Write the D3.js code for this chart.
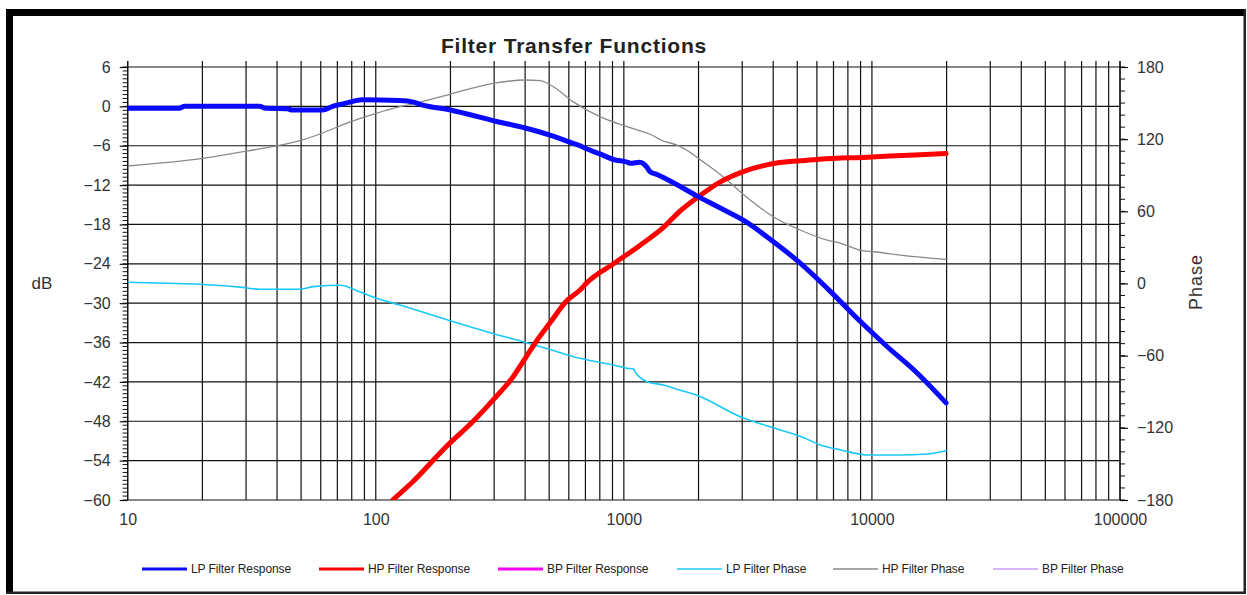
<!DOCTYPE html>
<html><head><meta charset="utf-8">
<script src="https://cdn.jsdelivr.net/npm/d3@7"></script>
<style>
html,body{margin:0;padding:0;background:#fff;}
svg{display:block;font-family:"Liberation Sans",Arial,sans-serif;}
</style></head><body>
<svg id="chart" width="1247" height="595"></svg>
<script>
// ---------- data ----------
const chartTitle = "Filter Transfer Functions";
const xTickValues = [10, 100, 1000, 10000, 100000];
const dbTickValues = [6, 0, -6, -12, -18, -24, -30, -36, -42, -48, -54, -60];
const phaseTickValues = [180, 120, 60, 0, -60, -120, -180];
const seriesNames = ["LP Filter Response", "HP Filter Response", "BP Filter Response",
                     "LP Filter Phase", "HP Filter Phase", "BP Filter Phase"];

const lpRespFreq = [10, 16, 17, 34, 36, 44, 46, 61, 67, 78, 88, 125, 142, 151, 200, 307, 400, 500, 600, 666, 700, 802, 908, 1030, 1063, 1160, 1240, 1270, 1360, 1490, 1960, 2450, 3110, 4000, 5140, 6590, 8990, 11500, 15170, 19900];
const lpRespDb   = [-0.3, -0.3, 0, 0, -0.3, -0.35, -0.55, -0.55, 0, 0.6, 1.0, 0.9, 0.65, 0.3, -0.55, -2.3, -3.3, -4.35, -5.4, -6.0, -6.4, -7.25, -8.1, -8.5, -8.67, -8.5, -9.3, -9.9, -10.4, -11.1, -13.6, -15.5, -17.6, -20.6, -23.9, -27.7, -32.8, -36.6, -40.6, -45.2];

const hpRespFreq = [117, 142, 193, 247, 298, 358, 405, 444, 504, 586, 666, 709, 908, 1160, 1440, 1680, 1960, 2450, 3030, 4250, 5140, 6150, 9580, 14870, 19900];
const hpRespDb   = [-60, -57.1, -51.8, -48.0, -44.7, -41.2, -38.1, -35.8, -33.0, -29.7, -28.0, -26.9, -24.0, -21.2, -18.5, -16.0, -14.0, -11.5, -9.94, -8.57, -8.3, -8.06, -7.75, -7.4, -7.2];

const bpRespFreq = [];
const bpRespDb   = [];

const lpPhaseFreq = [10, 15.5, 22, 29, 34, 49, 56, 72, 86, 101, 125, 199, 289, 405, 500, 666, 908, 1030, 1090, 1120, 1240, 1440, 1680, 1960, 2950, 4000, 5140, 6150, 7500, 9700, 12900, 16700, 19900];
const lpPhaseDeg  = [1, 0, -1.2, -3.2, -4.8, -4.8, -2.6, -1.5, -6.8, -12.3, -17.9, -30.9, -40.9, -49.2, -54.7, -62.2, -67.8, -70.5, -71, -74.7, -81.6, -84.4, -88.5, -92.7, -110.7, -120, -127, -134, -138.4, -142.6, -142.6, -141.7, -139];

const hpPhaseFreq = [10, 20, 30, 50, 86, 125, 146, 200, 298, 400, 460, 520, 625, 800, 1030, 1320, 1410, 1640, 1960, 2040, 2510, 3110, 4000, 5140, 6600, 7490, 8900, 10200, 14870, 19900];
const hpPhaseDeg  = [97.7, 104, 110, 119, 137, 147, 150, 157.5, 166.4, 169.2, 168.6, 163.6, 151, 138.7, 130.4, 122.6, 119.3, 115, 105.4, 102.7, 88.8, 72.2, 55.5, 44.5, 36, 33.4, 27.8, 26.4, 22.3, 20.0];

const bpPhaseFreq = [];
const bpPhaseDeg  = [];

// ---------- layout ----------
const svg = d3.select("#chart");
const W = 1247, H = 595;
const plot = {left: 127.7, right: 1120, top: 67, bottom: 500};

const x = d3.scaleLog().domain([10, 100000]).range([plot.left, plot.right]);
const yDb = d3.scaleLinear().domain([-60, 6]).range([plot.bottom, plot.top]);
const yPh = d3.scaleLinear().domain([-180, 180]).range([plot.bottom, plot.top]);

// frame
svg.append("rect").attr("x", 0).attr("y", 0).attr("width", W).attr("height", H).attr("fill", "#fff");
const frame = svg.append("g").attr("fill", "#000");
frame.append("rect").attr("x", 6).attr("y", 9).attr("width", 1240).attr("height", 7);
frame.append("rect").attr("x", 6).attr("y", 9).attr("width", 7).attr("height", 585);
frame.append("rect").attr("x", 1243.5).attr("y", 9).attr("width", 2.5).attr("height", 585).attr("fill", "#222");
frame.append("rect").attr("x", 6).attr("y", 591.5).attr("width", 1240).attr("height", 2.5).attr("fill", "#222");

// title
svg.append("text").attr("x", 574).attr("y", 52.5).attr("text-anchor", "middle")
  .attr("font-size", 21).attr("font-weight", "bold").attr("fill", "#222")
  .attr("letter-spacing", 0.8).text(chartTitle);

// grid
const gridColor = "#111";
const vLines = [];
for (let k = 1; k <= 4; k++) for (let d = 1; d <= 9; d++) vLines.push(d * Math.pow(10, k));
vLines.push(100000);
const grid = svg.append("g");
grid.selectAll("line.v").data(vLines).enter().append("line")
  .attr("x1", d => x(d)).attr("x2", d => x(d))
  .attr("y1", 61).attr("y2", plot.bottom)
  .attr("stroke", gridColor).attr("stroke-width", 1.2);
grid.selectAll("line.h").data(dbTickValues).enter().append("line")
  .attr("x1", plot.left).attr("x2", plot.right)
  .attr("y1", d => yDb(d)).attr("y2", d => yDb(d))
  .attr("stroke", gridColor).attr("stroke-width", 1.2);

// left axis (dB)
const leftAxis = d3.axisLeft(yDb).tickValues(dbTickValues).tickSize(8).tickPadding(9).tickFormat(d3.format("d"));
const gL = svg.append("g").attr("transform", `translate(${plot.left},0)`).call(leftAxis);
const dbMinor = d3.range(-60, 6.001, 0.6);
gL.selectAll("line.minor").data(dbMinor).enter().append("line").attr("class", "minor")
  .attr("x1", -5).attr("x2", 0).attr("y1", d => yDb(d)).attr("y2", d => yDb(d))
  .attr("stroke", gridColor).attr("stroke-width", 1);

// right axis (phase)
const rightAxis = d3.axisRight(yPh).tickValues(phaseTickValues).tickSize(8).tickPadding(9).tickFormat(d3.format("d"));
const gR = svg.append("g").attr("transform", `translate(${plot.right},0)`).call(rightAxis);
const phMinor = d3.range(-180, 180.001, 10);
gR.selectAll("line.minor").data(phMinor).enter().append("line").attr("class", "minor")
  .attr("x1", 0).attr("x2", 5).attr("y1", d => yPh(d)).attr("y2", d => yPh(d))
  .attr("stroke", gridColor).attr("stroke-width", 1);

// bottom axis (frequency)
const bottomAxis = d3.axisBottom(x).tickValues(xTickValues).tickSize(0).tickPadding(14).tickFormat(d3.format("d"));
const gB = svg.append("g").attr("transform", `translate(0,${plot.bottom})`).call(bottomAxis);

[gL, gR, gB].forEach(g => {
  g.select(".domain").attr("stroke", gridColor).attr("stroke-width", 1.2);
  g.selectAll(".tick line").attr("stroke", gridColor).attr("stroke-width", 1.2);
  g.selectAll("text").attr("font-size", 16).attr("fill", "#333")
    .attr("font-family", "'Liberation Sans',Arial,sans-serif");
});
gL.select(".domain").attr("d", `M0,61V${plot.bottom}`);
gR.select(".domain").attr("d", `M0,61V${plot.bottom}`);
gB.select(".domain").remove();

// axis titles
svg.append("text").attr("x", 42).attr("y", 289).attr("text-anchor", "middle")
  .attr("font-size", 17).attr("fill", "#333").text("dB");
svg.append("text").attr("transform", "translate(1202,282) rotate(-90)").attr("text-anchor", "middle")
  .attr("font-size", 18).attr("fill", "#333").attr("letter-spacing", 1).text("Phase");

// series
svg.append("clipPath").attr("id", "plotClip").append("rect")
  .attr("x", plot.left).attr("y", plot.top - 4).attr("width", plot.right - plot.left).attr("height", plot.bottom - plot.top + 4);

const seriesDefs = [
  {name: seriesNames[0], f: lpRespFreq, v: lpRespDb, y: yDb, color: "#0a0aff", w: 5},
  {name: seriesNames[1], f: hpRespFreq, v: hpRespDb, y: yDb, color: "#ff0000", w: 5},
  {name: seriesNames[2], f: bpRespFreq, v: bpRespDb, y: yDb, color: "#ff00ff", w: 5},
  {name: seriesNames[3], f: lpPhaseFreq, v: lpPhaseDeg, y: yPh, color: "#18c8f8", w: 1.6},
  {name: seriesNames[4], f: hpPhaseFreq, v: hpPhaseDeg, y: yPh, color: "#8a8a8a", w: 1.3},
  {name: seriesNames[5], f: bpPhaseFreq, v: bpPhaseDeg, y: yPh, color: "#c8a0f8", w: 1.6}
];
const drawOrder = [4, 3, 5, 2, 1, 0];
const gS = svg.append("g").attr("clip-path", "url(#plotClip)");
drawOrder.forEach(i => {
  const s = seriesDefs[i];
  const pts = s.f.map((f, j) => [f, s.v[j]]);
  if (!pts.length) return;
  const line = d3.line().x(d => x(d[0])).y(d => s.y(d[1])).curve(d3.curveMonotoneX);
  gS.append("path").datum(pts).attr("d", line).attr("fill", "none")
    .attr("stroke", s.color).attr("stroke-width", s.w).attr("stroke-linejoin", "round").attr("stroke-linecap", "round");
});

// legend
const legendX = [142, 319, 498, 677, 833, 993];
const gLeg = svg.append("g");
seriesDefs.forEach((s, i) => {
  const g = gLeg.append("g").attr("transform", `translate(${legendX[i]},569)`);
  g.append("line").attr("x1", 0).attr("x2", 45).attr("y1", 0).attr("y2", 0)
    .attr("stroke", s.color).attr("stroke-width", s.w > 2 ? 3 : 1.5);
  g.append("text").attr("x", 49).attr("y", 4).attr("font-size", 12).attr("fill", "#222")
    .attr("letter-spacing", -0.1).text(s.name);
});
</script>
</body></html>
